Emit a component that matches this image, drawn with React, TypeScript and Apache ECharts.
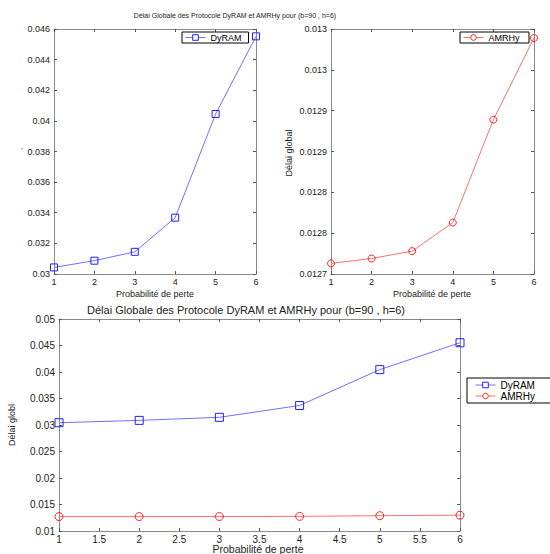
import React, { useEffect, useRef } from "react";
import * as echarts from "echarts";

const PROB = [1, 2, 3, 4, 5, 6];
const DYRAM = [0.03043, 0.03087, 0.03145, 0.03368, 0.04045, 0.04552];
const AMRHY = [0.012713, 0.012719, 0.012728, 0.012763, 0.012889, 0.012989];
const TR_Y_LABELS = ["0.0127", "0.0128", "0.0128", "0.0129", "0.0129", "0.013", "0.013"];
const TITLE = "Délai Globale des Protocole DyRAM et AMRHy pour (b=90 , h=6)";
const X_NAME = "Probabilité de perte";
const Y_NAME_TL = "'";
const Y_NAME_TR = "Délai global";
const Y_NAME_B = "Délai globl";

const FONT = "Liberation Sans, Arial, sans-serif";
const AXIS_COLOR = "#8a8a8a";
const LABEL_COLOR = "#222";

function xAxis(gridIndex: number, min: number, max: number, interval: number, top: boolean, fontSize: number) {
  return {
    type: "value",
    gridIndex,
    min,
    max,
    interval,
    position: top ? "top" : "bottom",
    axisLine: { show: true, onZero: false, lineStyle: { color: AXIS_COLOR, width: 1 } },
    axisTick: { show: true, inside: true, length: 3, lineStyle: { color: "#555" } },
    axisLabel: { show: !top, color: LABEL_COLOR, fontSize, fontFamily: FONT, margin: 3 },
    splitLine: { show: false },
  };
}

function yAxis(
  gridIndex: number,
  min: number,
  max: number,
  interval: number,
  right: boolean,
  fontSize: number,
  formatter?: (v: number) => string
) {
  return {
    type: "value",
    gridIndex,
    min,
    max,
    interval,
    position: right ? "right" : "left",
    axisLine: { show: true, onZero: false, lineStyle: { color: AXIS_COLOR, width: 1 } },
    axisTick: { show: true, inside: true, length: 3, lineStyle: { color: "#555" } },
    axisLabel: { show: !right, color: LABEL_COLOR, fontSize, fontFamily: FONT, margin: 4, formatter },
    splitLine: { show: false },
  };
}

const blueSeries = (name: string, xi: number, yi: number, size: number) => ({
  name,
  type: "line",
  xAxisIndex: xi,
  yAxisIndex: yi,
  data: PROB.map((p, i) => [p, DYRAM[i]]),
  symbol: "rect",
  symbolSize: size,
  lineStyle: { color: "#7070ff", width: 1 },
  itemStyle: { color: "rgba(255,255,255,0)", borderColor: "#2020ff", borderWidth: 1 },
  emphasis: { disabled: true },
});

const redSeries = (name: string, xi: number, yi: number, size: number) => ({
  name,
  type: "line",
  xAxisIndex: xi,
  yAxisIndex: yi,
  data: PROB.map((p, i) => [p, AMRHY[i]]),
  symbol: "circle",
  symbolSize: size,
  lineStyle: { color: "#ff7070", width: 1 },
  itemStyle: { color: "rgba(255,255,255,0)", borderColor: "#ff2020", borderWidth: 1 },
  emphasis: { disabled: true },
});

export default function App() {
  const ref = useRef<HTMLDivElement>(null);
  useEffect(() => {
    const chart = echarts.init(ref.current!, null, { renderer: "svg" });
    const trFormatter = (v: number) => {
      const idx = Math.round((v - 0.0127) / 0.00005);
      return TR_Y_LABELS[idx] ?? "";
    };
    const legendBase = {
      orient: "vertical",
      itemWidth: 20,
      itemHeight: 7,
      borderColor: "#000",
      borderWidth: 1,
      backgroundColor: "#fff",
      borderRadius: 0,
      selectedMode: false,
      itemStyle: { color: "#fff", borderWidth: 1 },
      lineStyle: { width: 1 },
    };
    const option: any = {
      animation: false,
      backgroundColor: "#fff",
      grid: [
        { left: 54, top: 29, width: 202, height: 245, show: false },
        { left: 331, top: 29, width: 203, height: 245, show: false },
        { left: 59, top: 319, width: 401, height: 212, show: false },
      ],
      xAxis: [
        xAxis(0, 1, 6, 1, false, 9),
        xAxis(0, 1, 6, 1, true, 9),
        xAxis(1, 1, 6, 1, false, 9),
        xAxis(1, 1, 6, 1, true, 9),
        xAxis(2, 1, 6, 0.5, false, 10),
        xAxis(2, 1, 6, 0.5, true, 10),
      ],
      yAxis: [
        yAxis(0, 0.03, 0.046, 0.002, false, 9),
        yAxis(0, 0.03, 0.046, 0.002, true, 9),
        yAxis(1, 0.0127, 0.013, 0.00005, false, 9, trFormatter),
        yAxis(1, 0.0127, 0.013, 0.00005, true, 9, trFormatter),
        yAxis(2, 0.01, 0.05, 0.005, false, 10),
        yAxis(2, 0.01, 0.05, 0.005, true, 10),
      ],
      legend: [
        {
          ...legendBase,
          data: ["DyRAM"],
          left: 182,
          top: 32,
          padding: [1, 7, 1, 3],
          textStyle: { fontSize: 9, color: "#000", fontFamily: FONT, lineHeight: 9 },
        },
        {
          ...legendBase,
          data: ["AMRHy "],
          left: 460,
          top: 32,
          padding: [1, 7, 1, 3],
          textStyle: { fontSize: 9, color: "#000", fontFamily: FONT, lineHeight: 9 },
        },
        {
          ...legendBase,
          data: ["DyRAM  ", "AMRHy  "],
          left: 467,
          top: 378,
          itemGap: 1,
          padding: [2, 30, 2, 8],
          textStyle: { fontSize: 10, color: "#000", fontFamily: FONT, lineHeight: 9 },
        },
      ],
      series: [
        blueSeries("DyRAM", 0, 0, 7),
        redSeries("AMRHy ", 2, 2, 7),
        blueSeries("DyRAM  ", 4, 4, 8),
        redSeries("AMRHy  ", 4, 4, 8),
      ],
      graphic: [
        { type: "text", x: 235, y: 15, style: { text: TITLE, fontSize: 7, fontFamily: FONT, fill: "#222", align: "center", verticalAlign: "middle" } },
        { type: "text", x: 246, y: 310, style: { text: TITLE, fontSize: 11, fontFamily: FONT, fill: "#222", align: "center", verticalAlign: "middle" } },
        { type: "text", x: 155, y: 294, style: { text: X_NAME, fontSize: 9, fontFamily: FONT, fill: "#222", align: "center", verticalAlign: "middle" } },
        { type: "text", x: 432, y: 294, style: { text: X_NAME, fontSize: 9, fontFamily: FONT, fill: "#222", align: "center", verticalAlign: "middle" } },
        { type: "text", x: 258, y: 549, style: { text: X_NAME, fontSize: 10.5, fontFamily: FONT, fill: "#222", align: "center", verticalAlign: "middle" } },
        { type: "text", x: 22, y: 150, style: { text: Y_NAME_TL, fontSize: 8, fontFamily: FONT, fill: "#222", align: "center", verticalAlign: "middle" } },
        { type: "text", x: 289, y: 153, rotation: Math.PI / 2, style: { text: Y_NAME_TR, fontSize: 9, fontFamily: FONT, fill: "#222", align: "center", verticalAlign: "middle" } },
        { type: "text", x: 12, y: 425, rotation: Math.PI / 2, style: { text: Y_NAME_B, fontSize: 9, fontFamily: FONT, fill: "#222", align: "center", verticalAlign: "middle" } },
      ],
    };
    chart.setOption(option);
    return () => chart.dispose();
  }, []);
  return (
    <div
      ref={ref}
      style={{ position: "fixed", left: 0, top: 0, width: 550, height: 554, background: "#fff" }}
    />
  );
}
